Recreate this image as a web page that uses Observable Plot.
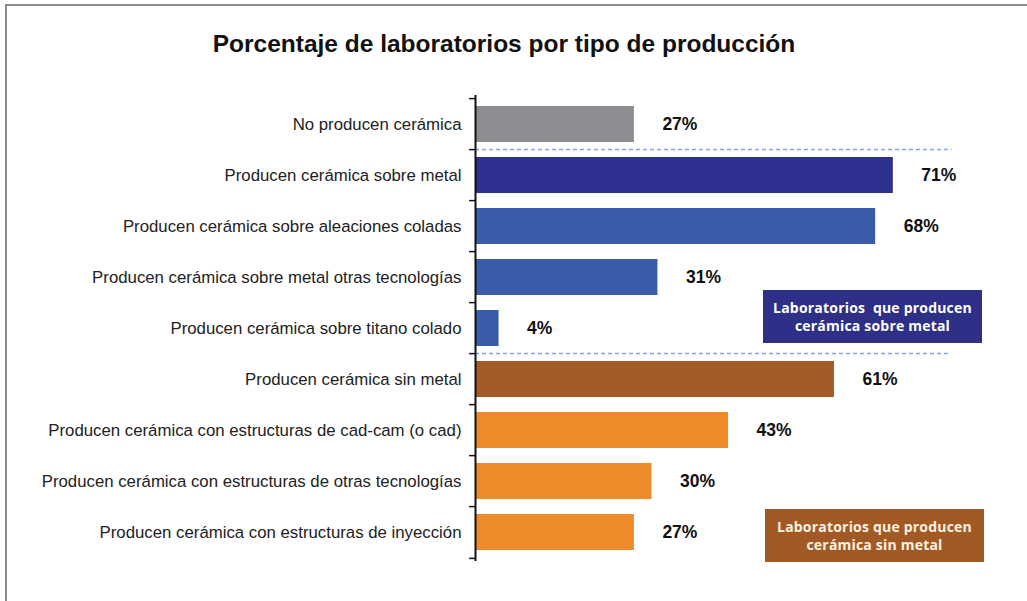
<!DOCTYPE html>
<html><head><meta charset="utf-8">
<script src="https://cdn.jsdelivr.net/npm/d3@7"></script>
<script src="https://cdn.jsdelivr.net/npm/@observablehq/plot@0.6"></script>
<style>
html,body{margin:0;padding:0;background:#fff;}
#wrap{position:relative;width:1027px;height:601px;overflow:hidden;font-family:"Liberation Sans",Arial,sans-serif;background:#fff;}
#frame{position:absolute;left:5px;top:4px;width:1100px;height:700px;border-top:2px solid #8a8a8a;border-left:2px solid #8a8a8a;}
#title{position:absolute;left:0;width:1008px;top:30px;text-align:center;font-weight:bold;font-size:24.5px;color:#111;}
.legend{position:absolute;font-family:"Open Sans",sans-serif;font-weight:bold;font-size:14px;text-align:center;line-height:18px;display:flex;align-items:center;justify-content:center;letter-spacing:0.2px;white-space:pre;}
#chart{position:absolute;left:0;top:0;}
</style>
</head><body>
<div id="wrap">
  <div id="frame"></div>
  <div id="chart"></div>
  <div id="title"></div>
</div>
<script>
const titleText = "Porcentaje de laboratorios por tipo de producción";
const categories = [
  "No producen cerámica",
  "Producen cerámica sobre metal",
  "Producen cerámica sobre aleaciones coladas",
  "Producen cerámica sobre metal otras tecnologías",
  "Producen cerámica sobre titano colado",
  "Producen cerámica sin metal",
  "Producen cerámica con estructuras de cad-cam (o cad)",
  "Producen cerámica con estructuras de otras tecnologías",
  "Producen cerámica con estructuras de inyección"
];
const values = [27, 71, 68, 31, 4, 61, 43, 30, 27];
const groups = ["none", "metalTotal", "metal", "metal", "metal", "sinMetalTotal", "sinMetal", "sinMetal", "sinMetal"];
const groupNames = ["none", "metalTotal", "metal", "sinMetalTotal", "sinMetal"];
const groupColors = ["#8b8d90", "#2e3190", "#3a5cab", "#a55b25", "#ef8a2b"];
const separatorCats = ["Producen cerámica sobre metal", "Producen cerámica sin metal"];
const separatorEnds = [81, 80.5];
const legendLabels = ["Laboratorios  que producen\ncerámica sobre metal", "Laboratorios que producen\ncerámica sin metal"];

const data = categories.map((c, i) => ({category: c, value: values[i], group: groups[i]}));
const separators = separatorCats.map((c, i) => ({category: c, end: separatorEnds[i]}));

const W = 1027, H = 601, mTop = 95, mBottom = 40, mLeft = 475;
const step = (H - mTop - mBottom) / categories.length;

const chart = Plot.plot({
  width: W, height: H,
  marginLeft: mLeft, marginRight: 0, marginTop: mTop, marginBottom: mBottom,
  style: {background: "transparent", fontFamily: "'Liberation Sans', Arial, sans-serif"},
  x: {domain: [0, 93.8], axis: null},
  y: {domain: categories, paddingInner: 0.3, paddingOuter: 0.15, axis: null},
  color: {domain: groupNames, range: groupColors},
  marks: [
    Plot.barX(data, {x: "value", y: "category", fill: "group", insetLeft: 1}),
    Plot.ruleY(separators, {y: "category", x1: 0, x2: "end", dy: -step / 2, stroke: "#7fa7e8", strokeWidth: 1.5, strokeDasharray: "4,3"}),
    Plot.ruleY(categories, {y: d => d, x1: -1, x2: 0, dy: -step / 2, stroke: "#111", strokeWidth: 1.5}),
    Plot.ruleY(categories.slice(-1), {y: d => d, x1: -1, x2: 0, dy: step / 2, stroke: "#111", strokeWidth: 1.5}),
    Plot.ruleX([0], {stroke: "#111", strokeWidth: 2}),
    Plot.text(data, {x: 0, y: "category", text: "category", textAnchor: "end", dx: -14, fontSize: 16.8, fill: "#222"}),
    Plot.text(data, {x: "value", y: "category", text: d => d.value + "%", textAnchor: "start", dx: 28, fontSize: 17.5, fontWeight: "bold", fill: "#111"})
  ]
});
document.getElementById("chart").appendChild(chart);
document.getElementById("title").textContent = titleText;

const legendBoxes = [
  {left: 763, top: 290, width: 219, height: 53, bg: "#2e2f87", fg: "#ffffff"},
  {left: 765, top: 509, width: 219, height: 53, bg: "#a25a24", fg: "#fdf1e2"}
];
legendBoxes.forEach((b, i) => {
  const d = document.createElement("div");
  d.className = "legend";
  Object.assign(d.style, {left: b.left + "px", top: b.top + "px", width: b.width + "px", height: b.height + "px", background: b.bg, color: b.fg});
  d.textContent = legendLabels[i];
  document.getElementById("wrap").appendChild(d);
});
</script>
</body></html>
